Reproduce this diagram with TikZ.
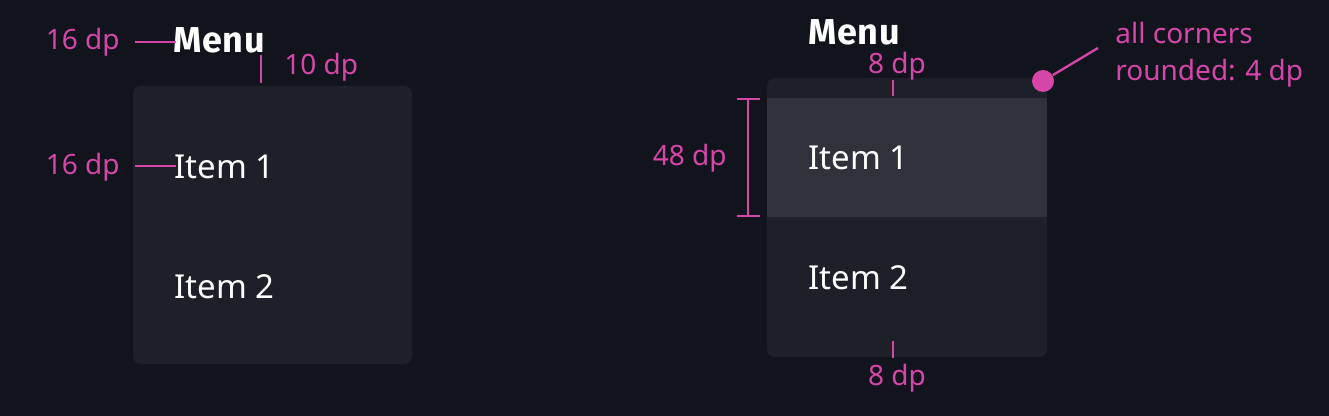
\documentclass[tikz,border=0pt]{standalone}
\usepackage{fontspec}
\setmainfont{Noto Sans}
\newfontfamily\menufont{Fira Sans Bold}[LetterSpace=2]
\definecolor{bgc}{HTML}{11141C}
\definecolor{panel}{HTML}{1E2029}
\definecolor{hilite}{HTML}{2F323B}
\definecolor{mag}{HTML}{D645A8}
\tikzset{
  dim/.style={draw=mag, line width=1.2pt},
  dimlabel/.style={text=mag, font=\fontsize{14}{16}\selectfont, inner sep=0pt},
  itemtext/.style={text=white, font=\fontsize{16.5}{19}\selectfont, inner sep=0pt, anchor=base west},
  menutext/.style={text=white, font=\fontsize{18}{20}\menufont, inner sep=0pt, anchor=base west},
}
\begin{document}
\begin{tikzpicture}[x=0.5pt,y=-0.5pt]
\fill[bgc] (0,0) rectangle (1329,416);
\useasboundingbox (0,0) rectangle (1329,416);
% ---------- left panel ----------
\fill[panel, rounded corners=4pt] (133,86) rectangle (412,364);
\node[menutext] (lmenu) at (173,53) {Menu};
\node[itemtext] (litem1) at (174,179) {Item 1};
\node[itemtext] (litem2) at (174,299) {Item 2};
\node[dimlabel, anchor=east] (l16a) at (120,42.5) {16 dp};
\node[dimlabel, anchor=east] (l16b) at (120,167) {16 dp};
\node[dimlabel, anchor=west] (l10) at (284,67) {10 dp};
\coordinate (la1) at (135,42);
\coordinate (la2) at (176,42);
\coordinate (lb1) at (135,166);
\coordinate (lb2) at (176,166);
\coordinate (lc1) at (261,55);
\coordinate (lc2) at (261,83);
\draw[dim] (la1) -- (la2);
\draw[dim] (lb1) -- (lb2);
\draw[dim] (lc1) -- (lc2);
% ---------- right panel ----------
\fill[panel, rounded corners=4pt] (767,78) rectangle (1047,357);
\fill[hilite] (767,98) rectangle (1047,217);
\node[menutext] (rmenu) at (808,45) {Menu};
\node[itemtext] (ritem1) at (808,170) {Item 1};
\node[itemtext] (ritem2) at (808,290) {Item 2};
\node[dimlabel] (r8a) at (897,66) {8 dp};
\node[dimlabel] (r8b) at (897,378) {8 dp};
\node[dimlabel, anchor=east] (r48) at (727,158) {48 dp};
\coordinate (rt1) at (893,80);
\coordinate (rt2) at (893,96);
\coordinate (rb1) at (893,341);
\coordinate (rb2) at (893,358);
\draw[dim] (rt1) -- (rt2);
\draw[dim] (rb1) -- (rb2);
\coordinate (br1) at (748,99);
\coordinate (br2) at (748,216);
\draw[dim] (br1) -- (br2);
\draw[dim] (737,99) -- (760,99);
\draw[dim] (737,216) -- (760,216);
\node[circle, fill=mag, minimum size=11pt, inner sep=0pt] (dot) at (1043,81) {};
\coordinate (lead) at (1098,48);
\draw[dim] (dot) -- (lead);
\node[dimlabel, anchor=west, align=left, font=\fontsize{14}{18.5}\selectfont] (note) at (1115,55) {all corners\\rounded: 4 dp};
\end{tikzpicture}
\end{document}
